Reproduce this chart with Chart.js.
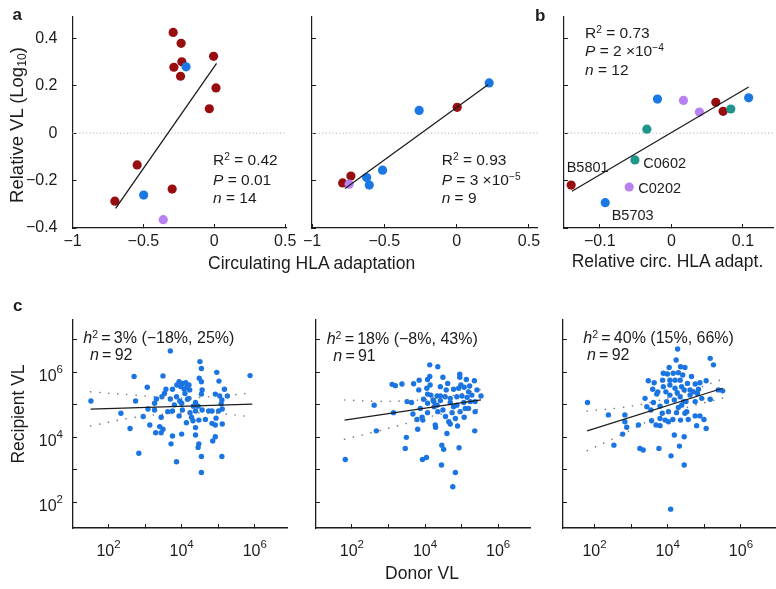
<!DOCTYPE html>
<html><head><meta charset="utf-8">
<script src="https://cdn.jsdelivr.net/npm/chart.js@4.4.1/dist/chart.umd.min.js"></script>
<style>
html,body{margin:0;padding:0;background:#fff;}
#fig{position:relative;width:776px;height:589px;overflow:hidden;font-family:"Liberation Sans",Arial,Helvetica,sans-serif;color:#1c1c1c;}
canvas{position:absolute;left:0;top:0;}
.t{position:absolute;white-space:nowrap;line-height:1;}
.bd{font-weight:bold;font-size:17px;}
.ax{font-size:17.5px;}
.st{font-size:15.5px;}
.ct{font-size:16px;}
.lb{font-size:14.5px;}
.rot{transform:translate(-50%,-50%) rotate(-90deg);}
sup{font-size:0.66em;vertical-align:0.5em;line-height:0;}
sub{font-size:0.66em;vertical-align:-0.25em;line-height:0;}
</style></head>
<body><div id="fig">
<canvas id="cAL" width="776" height="589"></canvas>
<canvas id="cAR" width="776" height="589"></canvas>
<canvas id="cB" width="776" height="589"></canvas>
<canvas id="cCL" width="776" height="589"></canvas>
<canvas id="cCM" width="776" height="589"></canvas>
<canvas id="cCR" width="776" height="589"></canvas>

<div class="t bd" style="left:12.5px;top:5.6px">a</div>
<div class="t bd" style="left:535px;top:7.3px">b</div>
<div class="t bd" style="left:13px;top:296.6px">c</div>

<div class="t ax rot" style="left:17px;top:125px;font-size:18.5px">Relative VL (Log<sub>10</sub>)</div>
<div class="t ax" style="left:208px;top:255.2px">Circulating HLA adaptation</div>
<div class="t ax" style="left:571.7px;top:253.2px">Relative circ. HLA adapt.</div>
<div class="t ax rot" style="left:18.5px;top:414px">Recipient VL</div>
<div class="t ax" style="left:422px;top:565.2px;transform:translateX(-50%)">Donor VL</div>

<div class="t st" style="left:213px;top:152.2px">R<sup>2</sup> = 0.42</div>
<div class="t st" style="left:213px;top:171.6px"><i>P</i> = 0.01</div>
<div class="t st" style="left:213px;top:190px"><i>n</i> = 14</div>

<div class="t st" style="left:441.7px;top:152.2px">R<sup>2</sup> = 0.93</div>
<div class="t st" style="left:441.7px;top:171.6px"><i>P</i> = 3 ×10<sup>−5</sup></div>
<div class="t st" style="left:441.7px;top:190px"><i>n</i> = 9</div>

<div class="t st" style="left:585px;top:25.2px">R<sup>2</sup> = 0.73</div>
<div class="t st" style="left:585px;top:43.2px"><i>P</i> = 2 ×10<sup>−4</sup></div>
<div class="t st" style="left:585px;top:61.6px"><i>n</i> = 12</div>

<div class="t lb" style="left:566.7px;top:159.6px">B5801</div>
<div class="t lb" style="left:643.3px;top:155.7px">C0602</div>
<div class="t lb" style="left:638.3px;top:181.2px">C0202</div>
<div class="t lb" style="left:611.7px;top:208.2px">B5703</div>

<div class="t ct" style="left:83.3px;top:329.7px"><i>h</i><sup>2</sup>&#8201;=&#8201;3% (−18%, 25%)</div>
<div class="t ct" style="left:90px;top:347.2px"><i>n</i>&#8201;=&#8201;92</div>
<div class="t ct" style="left:326.7px;top:331.2px"><i>h</i><sup>2</sup>&#8201;=&#8201;18% (−8%, 43%)</div>
<div class="t ct" style="left:333.3px;top:348.2px"><i>n</i>&#8201;=&#8201;91</div>
<div class="t ct" style="left:583.3px;top:330.2px"><i>h</i><sup>2</sup>&#8201;=&#8201;40% (15%, 66%)</div>
<div class="t ct" style="left:587px;top:347.2px"><i>n</i>&#8201;=&#8201;92</div>
</div>
<script>
// ---------- Panel a (left): circulating HLA adaptation vs relative VL (log10)
const aL_red_x = [-0.290,-0.234,-0.229,-0.285,-0.238,-0.005,0.012,-0.035,-0.544,-0.297,-0.701];
const aL_red_y = [0.425,0.379,0.301,0.278,0.240,0.324,0.191,0.103,-0.134,-0.236,-0.287];
const aL_blue_x = [-0.199,-0.498];
const aL_blue_y = [0.280,-0.261];
const aL_purple_x = [-0.360];
const aL_purple_y = [-0.365];
const aL_fit_x = [-0.696,0.016];
const aL_fit_y = [-0.317,0.294];

// ---------- Panel a (right)
const aR_red_x = [0.004,-0.731,-0.788];
const aR_red_y = [0.109,-0.181,-0.210];
const aR_blue_x = [0.225,-0.259,-0.512,-0.622,-0.604];
const aR_blue_y = [0.212,0.096,-0.156,-0.187,-0.219];
const aR_purple_x = [-0.743];
const aR_purple_y = [-0.215];
const aR_fit_x = [-0.772,0.219];
const aR_fit_y = [-0.233,0.205];

// ---------- Panel b: relative circ. HLA adaptation
const b_red_x = [0.0621,0.0723,-0.140];
const b_red_y = [0.130,0.092,-0.219];
const b_blue_x = [-0.0194,0.108,-0.0924];
const b_blue_y = [0.144,0.149,-0.293];
const b_purple_x = [0.0169,0.0392,-0.0589];
const b_purple_y = [0.138,0.089,-0.227];
const b_teal_x = [0.083,-0.0342,-0.0509];
const b_teal_y = [0.102,0.017,-0.113];
const b_fit_x = [-0.139,0.108];
const b_fit_y = [-0.245,0.195];

// ---------- Tick values (a, b)
const a_xTicks = [-1,-0.5,0,0.5];
const vl_yTicks = [-0.4,-0.2,0,0.2,0.4];
const b_xTicks = [-0.1,0,0.1];

// ---------- Panel c: log10 donor VL (x) vs log10 recipient VL (y)
const cL_x = [3.69,4.50,4.54,2.70,3.49,4.96,5.87,4.48,4.54,5.02,
3.06,3.93,4.02,4.11,4.20,4.14,4.07,4.22,3.98,3.87,
3.75,3.57,3.53,3.46,3.31,3.26,3.69,3.86,3.95,4.00,
4.16,4.20,3.80,4.38,4.45,4.56,4.54,4.92,5.04,5.17,
5.25,5.10,5.08,5.11,2.74,3.08,3.26,3.75,4.02,4.23,
4.38,4.56,4.74,4.83,5.01,2.34,2.95,3.44,3.93,4.27,
4.31,4.13,4.47,4.65,4.94,4.83,4.92,5.11,2.59,3.13,
3.40,3.49,3.29,3.44,4.38,3.75,4.00,4.38,4.92,3.71,
4.47,4.45,4.85,2.83,4.54,5.10,3.86,4.54,1.52,4.09,
4.32,3.62];
const cL_y = [6.65,6.32,6.11,5.86,5.88,5.99,5.89,5.81,5.70,5.72,
5.53,5.70,5.65,5.67,5.60,5.53,5.47,5.45,5.55,5.60,
5.47,5.47,5.34,5.24,5.17,5.04,5.17,5.24,5.11,5.04,
5.16,5.19,4.99,5.06,4.95,5.45,5.32,5.32,5.26,5.47,
5.26,5.14,5.02,4.86,5.11,4.86,4.83,4.80,4.83,4.75,
4.80,4.83,4.80,4.80,4.80,4.73,4.63,4.61,4.65,4.61,
4.50,4.44,4.52,4.54,4.58,4.42,4.37,4.40,4.26,4.37,
4.32,4.24,4.13,4.13,4.29,4.03,4.09,4.06,4.01,3.79,
3.79,3.68,3.88,3.50,3.40,3.40,3.24,2.91,5.11,5.34,
4.95,4.78];
const cL_fit_x = [1.51,5.93];
const cL_fit_y = [4.86,5.01];
const cL_ci_x = [1.51,2.7,3.9,5.0,5.93];
const cL_ci_hi = [5.39,5.29,5.20,5.26,5.35];
const cL_ci_lo = [4.34,4.60,4.73,4.72,4.62];

const cM_x = [4.13,4.35,3.10,3.19,3.37,3.69,3.84,4.07,4.13,4.49,
4.95,4.95,5.13,5.35,4.62,4.78,4.98,5.07,5.22,5.19,
5.42,3.83,4.05,4.07,4.16,4.33,4.42,4.55,3.96,4.22,
4.42,4.69,4.87,5.01,5.15,5.28,5.53,5.37,3.51,3.63,
4.07,4.33,4.69,4.87,5.06,5.24,2.61,3.14,3.67,4.07,
4.35,4.49,4.78,4.96,5.37,5.10,3.78,3.92,3.94,4.28,
4.29,4.56,4.65,4.69,4.83,5.07,4.89,2.67,3.80,4.60,
5.36,3.49,3.46,4.46,4.51,4.93,3.93,4.04,4.45,4.83,
4.76,1.82,4.24,4.58,4.42,4.14,4.74,3.87,5.19,4.92,
4.25];
const cM_y = [6.22,6.16,5.62,5.58,5.63,5.64,5.75,5.77,5.86,5.84,
5.93,5.84,5.77,5.73,5.65,5.47,5.60,5.53,5.57,5.39,
5.45,5.45,5.50,5.32,5.29,5.26,5.26,5.24,5.16,5.14,
5.12,5.19,5.24,5.26,5.22,5.29,5.26,5.09,5.09,5.06,
5.04,4.98,5.06,4.98,5.06,5.09,4.98,4.75,4.71,4.75,
4.78,4.83,4.93,4.78,4.78,4.88,4.54,4.61,4.52,4.37,
4.30,4.63,4.47,4.40,4.57,4.61,4.34,4.19,4.24,4.11,
4.19,3.99,3.65,3.75,3.62,3.67,3.31,3.37,3.14,2.91,
2.47,3.31,5.09,5.45,5.55,5.60,4.75,4.88,4.88,5.50,
4.93];
const cM_fit_x = [1.80,5.53];
const cM_fit_y = [4.52,5.14];
const cM_ci_x = [1.80,2.7,3.6,4.5,5.53];
const cM_ci_hi = [5.14,5.10,5.12,5.22,5.47];
const cM_ci_lo = [3.93,4.18,4.45,4.72,4.85];

const cR_x = [4.27,5.16,5.25,4.23,4.04,4.35,4.47,3.99,4.15,4.29,
4.41,3.47,3.63,3.86,4.06,4.20,4.34,4.06,3.88,4.54,
4.75,4.88,5.05,3.59,3.73,3.70,4.20,4.38,4.45,4.61,
4.70,4.84,4.81,5.38,5.50,4.06,4.18,4.34,4.43,4.50,
4.61,4.75,4.93,5.16,3.38,3.61,3.97,1.81,3.43,4.29,
4.38,4.52,3.54,3.85,4.02,4.24,4.75,4.88,4.99,2.38,
2.83,2.83,3.56,3.79,3.93,4.02,4.14,4.35,3.20,2.88,
3.68,3.79,4.79,5.05,2.77,4.18,4.45,2.53,3.24,3.33,
3.76,4.32,4.09,4.45,4.08,3.95,4.26,4.65,3.88,4.47,
3.79,4.56];
const cR_y = [6.71,6.42,6.22,6.37,6.14,6.16,6.14,5.94,5.96,5.98,
5.91,5.73,5.67,5.75,5.75,5.75,5.75,5.60,5.55,5.65,
5.63,5.67,5.73,5.47,5.39,5.32,5.50,5.55,5.45,5.45,
5.39,5.47,5.34,5.45,5.42,5.29,5.14,5.24,5.09,5.09,
5.29,5.09,5.19,5.16,5.19,5.06,5.09,5.06,4.93,4.91,
4.98,4.78,4.83,4.73,4.78,4.75,4.65,4.65,4.54,4.68,
4.68,4.47,4.50,4.57,4.52,4.47,4.54,4.52,4.37,4.30,
4.37,4.35,4.35,4.26,4.09,4.06,4.01,3.75,3.65,3.60,
3.65,3.72,3.42,3.14,1.78,5.39,5.36,5.86,5.96,4.73,
4.95,4.54];
const cR_fit_x = [1.80,5.50];
const cR_fit_y = [4.19,5.50];
const cR_ci_x = [1.80,2.7,3.6,4.5,5.50];
const cR_ci_hi = [4.80,4.90,5.08,5.38,5.78];
const cR_ci_lo = [3.58,4.05,4.55,4.90,5.20];

// log10 tick positions for panel c
const c_xTickExps = [2,3,4,5,6];
const c_yTickExps = [2,3,4,5,6,7];
const c_labelExps = [2,4,6];

// ---------- drawing helpers
const FONT = '"Liberation Sans", Arial, Helvetica, sans-serif';
const INK = '#1c1c1c';
const RED = '#980e10', BLUE = '#1b77e3', PURPLE = '#b881f1', TEAL = '#1f968a', CBLUE = '#1a74e2';

const pts = (xs, ys) => xs.map((x, i) => ({x: x, y: ys[i]}));
const fmt = v => (v < 0 ? '\u2212' : '') + String(Math.abs(v));
const dots = (xs, ys, color, r, order) => ({data: pts(xs, ys), backgroundColor: color, borderWidth: 0,
  pointRadius: r, pointHoverRadius: r, order: order, clip: false});
const line = (xs, ys, color, w, dash, order, tension, cap) => ({data: pts(xs, ys), showLine: true,
  borderColor: color, borderWidth: w, borderDash: dash, borderCapStyle: cap || 'butt', pointRadius: 0,
  pointHoverRadius: 0, order: order, tension: tension || 0, clip: false, fill: false});

function supPlugin(name, axes) {
  return {id: 'sup' + name, afterDraw(chart) {
    const ctx = chart.ctx;
    ctx.save();
    ctx.fillStyle = INK; ctx.textAlign = 'left'; ctx.textBaseline = 'alphabetic';
    axes.forEach(a => {
      const s = chart.scales[a];
      c_labelExps.forEach(e => {
        const p = s.getPixelForValue(e);
        ctx.font = '16px ' + FONT; const w1 = ctx.measureText('10').width;
        ctx.font = '11.5px ' + FONT; const w2 = ctx.measureText(String(e)).width;
        let x0, yb;
        if (s.isHorizontal()) { x0 = p - (w1 + w2) / 2; yb = s.top + 28; }
        else { x0 = s.right - 10 - w1 - w2; yb = p + 9; }
        ctx.font = '16px ' + FONT; ctx.fillText('10', x0, yb);
        ctx.font = '11.5px ' + FONT; ctx.fillText(String(e), x0 + w1, yb - 8.5);
      });
    });
    ctx.restore();
  }};
}

function axis(range, tickVals, labFn, isX, pad, bw) {
  return {
    type: 'linear', min: range[0], max: range[1], position: isX ? 'bottom' : 'left',
    afterBuildTicks: s => { s.ticks = tickVals.map(v => ({value: v})); },
    afterFit: s => { if (isX) s.height = 50; else s.width = 60;
      s.paddingLeft = 0; s.paddingRight = 0; s.paddingTop = 0; s.paddingBottom = 0; },
    grid: {drawOnChartArea: false, drawTicks: true, tickLength: -4, color: INK, lineWidth: 1},
    border: {display: true, color: INK, width: bw || 1.2},
    ticks: {autoSkip: false, maxRotation: 0, minRotation: 0, color: INK,
      font: {family: FONT, size: 16}, padding: pad, callback: labFn}
  };
}

function panel(id, area, xr, yr, xScale, yScale, datasets, plugins) {
  new Chart(document.getElementById(id), {
    type: 'scatter',
    data: {datasets: datasets},
    options: {
      responsive: false, animation: false, devicePixelRatio: 1, events: [],
      layout: {autoPadding: false, padding: {left: area.l - 60, right: 776 - area.r, top: area.t, bottom: 589 - area.b - 50}},
      plugins: {legend: {display: false}, tooltip: {enabled: false}},
      scales: {x: xScale, y: yScale}
    },
    plugins: plugins || []
  });
}

const showLab = v => fmt(v);
const noLab = () => '';
const zero = (xr) => line(xr, [0, 0], '#c4c4c4', 1.1, [1.2, 2.2], 20);

// a-left
const aL_xr = [-1, 0.51], aR_xr = [-1, 0.56], b_xr = [-0.15, 0.142], vl_yr = [-0.4, 0.49];
panel('cAL', {l: 72.5, r: 286.6, t: 17, b: 228}, aL_xr, vl_yr,
  axis(aL_xr, a_xTicks, showLab, true, 8), axis(vl_yr, vl_yTicks, showLab, false, 19),
  [line(aL_fit_x, aL_fit_y, INK, 1.3, [], 0), dots(aL_purple_x, aL_purple_y, PURPLE, 4.6, 1),
   dots(aL_blue_x, aL_blue_y, BLUE, 4.6, 2), dots(aL_red_x, aL_red_y, RED, 4.6, 3), zero(aL_xr)]);

panel('cAR', {l: 312, r: 537.6, t: 17, b: 228}, aR_xr, vl_yr,
  axis(aR_xr, a_xTicks, showLab, true, 8), axis(vl_yr, vl_yTicks, noLab, false, 19),
  [line(aR_fit_x, aR_fit_y, INK, 1.3, [], 0), dots(aR_purple_x, aR_purple_y, PURPLE, 4.6, 1),
   dots(aR_blue_x, aR_blue_y, BLUE, 4.6, 2), dots(aR_red_x, aR_red_y, RED, 4.6, 3), zero(aR_xr)]);

panel('cB', {l: 564, r: 773, t: 17, b: 228}, b_xr, vl_yr,
  axis(b_xr, b_xTicks, showLab, true, 8), axis(vl_yr, vl_yTicks, noLab, false, 19),
  [line(b_fit_x, b_fit_y, INK, 1.3, [], 0), dots(b_teal_x, b_teal_y, TEAL, 4.6, 1),
   dots(b_purple_x, b_purple_y, PURPLE, 4.6, 2), dots(b_blue_x, b_blue_y, BLUE, 4.6, 3),
   dots(b_red_x, b_red_y, RED, 4.6, 4), zero(b_xr)]);

// c panels
const c_yr = [1.2, 7.6];
function cPanel(id, area, xr, xs, ys, fx, fy, cx, chi, clo, showY) {
  panel(id, area, xr, c_yr,
    axis(xr, c_xTickExps, noLab, true, 12, 1.5), axis(c_yr, c_yTickExps, noLab, false, 14, 1.3),
    [line(fx, fy, INK, 1.3, [], 0),
     line(cx, chi, '#7a7a7a', 1.6, [0.1, 9], 1, 0.4, 'round'),
     line(cx, clo, '#7a7a7a', 1.6, [0.1, 9], 1, 0.4, 'round'),
     dots(xs, ys, CBLUE, 2.7, 2)],
    [supPlugin(id, showY ? ['x', 'y'] : ['x'])]);
}
cPanel('cCL', {l: 73, r: 287, t: 320, b: 528}, [1.03, 6.88], cL_x, cL_y, cL_fit_x, cL_fit_y, cL_ci_x, cL_ci_hi, cL_ci_lo, true);
cPanel('cCM', {l: 316, r: 530, t: 320, b: 528}, [1.02, 6.87], cM_x, cM_y, cM_fit_x, cM_fit_y, cM_ci_x, cM_ci_hi, cM_ci_lo, false);
cPanel('cCR', {l: 563, r: 775, t: 320, b: 528}, [1.14, 6.93], cR_x, cR_y, cR_fit_x, cR_fit_y, cR_ci_x, cR_ci_hi, cR_ci_lo, false);
</script>
</body></html>
